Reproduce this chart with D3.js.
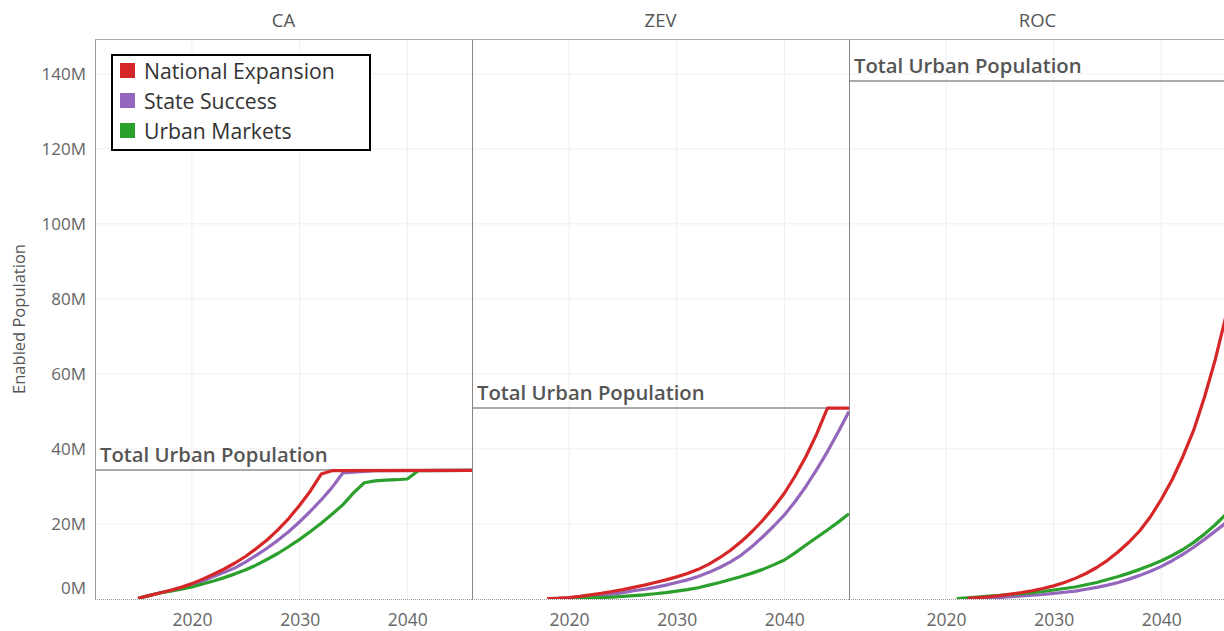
<!DOCTYPE html>
<html>
<head>
<meta charset="utf-8">
<script src="https://cdn.jsdelivr.net/npm/d3@7"></script>
<style>
  body { margin: 0; background: #fff; }
  text { font-family: "Open Sans", sans-serif; }
</style>
</head>
<body>
<svg id="svg"></svg>
<script>
// panels, scenarios and the values (millions of people)
const panels = ['CA', 'ZEV', 'ROC'];
const scenarios = ['National Expansion', 'State Success', 'Urban Markets'];
const colors = ['#d62728', '#9467bd', '#2ca02c'];
const totalUrban = [34.4, 50.9, 138.1];
const yTicks = [0, 20, 40, 60, 80, 100, 120, 140];
const xTicks = [2020, 2030, 2040];

const caNational = [[2015,0.2],[2016,0.9],[2017,1.6],[2018,2.3],[2019,3.1],[2020,4.1],[2021,5.3],[2022,6.6],[2023,8.0],[2024,9.6],[2025,11.4],[2026,13.5],[2027,15.8],[2028,18.5],[2029,21.5],[2030,25.0],[2031,28.8],[2032,33.3],[2033,34.2],[2046,34.3]];
const caState = [[2015,0.2],[2016,0.9],[2017,1.6],[2018,2.2],[2019,2.9],[2020,3.7],[2021,4.8],[2022,6.0],[2023,7.1],[2024,8.3],[2025,9.9],[2026,11.7],[2027,13.6],[2028,15.7],[2029,18.0],[2030,20.6],[2031,23.4],[2032,26.4],[2033,29.7],[2034,33.6],[2035,33.8],[2036,34.0],[2037,34.2],[2046,34.3]];
const caUrban = [[2015,0.2],[2016,0.9],[2017,1.6],[2018,2.1],[2019,2.6],[2020,3.2],[2021,4.0],[2022,4.8],[2023,5.7],[2024,6.7],[2025,7.8],[2026,9.1],[2027,10.6],[2028,12.2],[2029,14.0],[2030,15.9],[2031,18.0],[2032,20.2],[2033,22.6],[2034,25.1],[2035,28.3],[2036,31.0],[2037,31.5],[2038,31.7],[2039,31.8],[2040,32.0],[2041,34.2],[2046,34.3]];

const zevNational = [[2018,0.1],[2019,0.2],[2020,0.4],[2021,0.7],[2022,1.1],[2023,1.5],[2024,2.0],[2025,2.5],[2026,3.1],[2027,3.7],[2028,4.4],[2029,5.1],[2030,5.9],[2031,6.8],[2032,7.9],[2033,9.3],[2034,11.0],[2035,13.0],[2036,15.3],[2037,18.0],[2038,21.0],[2039,24.4],[2040,28.2],[2041,32.8],[2042,38.0],[2043,44.0],[2044,50.9],[2046,50.9]];
const zevState = [[2018,0.1],[2020,0.3],[2021,0.5],[2022,0.8],[2023,1.0],[2024,1.3],[2025,1.7],[2026,2.2],[2027,2.6],[2028,3.1],[2029,3.7],[2030,4.4],[2031,5.1],[2032,6.0],[2033,7.1],[2034,8.4],[2035,9.9],[2036,11.7],[2037,14.0],[2038,16.6],[2039,19.4],[2040,22.4],[2041,26.0],[2042,30.0],[2043,34.5],[2044,39.3],[2045,44.5],[2046,50.0]];
const zevUrban = [[2018,0.0],[2020,0.1],[2022,0.3],[2024,0.5],[2026,0.9],[2027,1.1],[2028,1.4],[2029,1.7],[2030,2.1],[2031,2.5],[2032,3.0],[2033,3.7],[2034,4.4],[2035,5.2],[2036,6.0],[2037,6.9],[2038,7.9],[2039,9.1],[2040,10.4],[2041,12.3],[2042,14.4],[2043,16.4],[2044,18.4],[2045,20.5],[2046,22.7]];

const rocNational = [[2022,0.2],[2023,0.4],[2024,0.6],[2025,0.9],[2026,1.3],[2027,1.7],[2028,2.2],[2029,2.8],[2030,3.5],[2031,4.4],[2032,5.5],[2033,6.8],[2034,8.4],[2035,10.3],[2036,12.6],[2037,15.2],[2038,18.2],[2039,22.0],[2040,26.6],[2041,31.8],[2042,38.0],[2043,45.0],[2044,53.8],[2045,63.8],[2046,75.5]];
const rocState = [[2022,0.0],[2024,0.2],[2026,0.6],[2027,0.8],[2028,1.0],[2029,1.2],[2030,1.5],[2031,1.8],[2032,2.1],[2033,2.6],[2034,3.1],[2035,3.7],[2036,4.4],[2037,5.3],[2038,6.3],[2039,7.4],[2040,8.7],[2041,10.2],[2042,11.9],[2043,13.8],[2044,15.9],[2045,18.1],[2046,20.3]];
const rocUrban = [[2021,0.1],[2022,0.3],[2024,0.8],[2026,1.2],[2027,1.4],[2028,1.7],[2029,2.0],[2030,2.4],[2031,2.8],[2032,3.2],[2033,3.8],[2034,4.4],[2035,5.2],[2036,6.0],[2037,6.9],[2038,7.9],[2039,9.0],[2040,10.2],[2041,11.6],[2042,13.2],[2043,15.1],[2044,17.3],[2045,19.8],[2046,22.6]];

const panelSeries = [
  [caNational, caState, caUrban],
  [zevNational, zevState, zevUrban],
  [rocNational, rocState, rocUrban]
];

const width = 1224;
const height = 631;
const plotLeft = 95;
const plotTop = 39;
const plotBottom = 599;
const panelW = 377;

const svg = d3.select('#svg')
  .attr('width', width)
  .attr('height', height);

const y = d3.scaleLinear()
  .domain([0, 149.3])
  .range([plotBottom, plotTop]);

// y axis labels
const yAxis = svg.append('g')
  .attr('transform', `translate(${plotLeft},0)`)
  .call(d3.axisLeft(y).tickValues(yTicks).tickSize(0).tickPadding(9).tickFormat(d => d + 'M'));
yAxis.select('.domain').remove();
yAxis.selectAll('text')
  .attr('fill', '#666')
  .attr('font-size', '17px')
  .attr('dy', d => d === 0 ? '-0.35em' : '0.32em');

svg.append('text')
  .attr('transform', `translate(25, ${(plotTop + plotBottom) / 2}) rotate(-90)`)
  .attr('text-anchor', 'middle')
  .attr('fill', '#555')
  .attr('font-size', '16.5px')
  .text('Enabled Population');

const line = d3.line()
  .x(d => d[0])
  .y(d => d[1]);

panels.forEach((name, i) => {
  const x0 = plotLeft + i * panelW;
  const x = d3.scaleLinear()
    .domain([2011, 2046])
    .range([x0, x0 + panelW]);

  const g = svg.append('g');

  // gridlines
  g.selectAll('.hgrid')
    .data(yTicks.filter(t => t > 0))
    .enter().append('line')
    .attr('x1', x0).attr('x2', x0 + panelW)
    .attr('y1', d => y(d)).attr('y2', d => y(d))
    .attr('stroke', '#efefef').attr('stroke-width', 1);

  g.selectAll('.vgrid')
    .data(xTicks)
    .enter().append('line')
    .attr('x1', d => x(d)).attr('x2', d => x(d))
    .attr('y1', plotTop).attr('y2', plotBottom)
    .attr('stroke', '#efefef').attr('stroke-width', 1);

  // x axis labels
  const xAxis = g.append('g')
    .attr('transform', `translate(0,${plotBottom})`)
    .call(d3.axisBottom(x).tickValues(xTicks).tickSize(0).tickPadding(15).tickFormat(d3.format('d')));
  xAxis.select('.domain').remove();
  xAxis.selectAll('text')
    .attr('fill', '#666')
    .attr('font-size', '17.5px');

  // header
  svg.append('text')
    .attr('x', x0 + panelW / 2)
    .attr('y', 27)
    .attr('text-anchor', 'middle')
    .attr('fill', '#555')
    .attr('font-size', '18.5px')
    .text(name);

  // reference line
  g.append('line')
    .attr('x1', x0).attr('x2', x0 + panelW)
    .attr('y1', y(totalUrban[i])).attr('y2', y(totalUrban[i]))
    .attr('stroke', '#aaa').attr('stroke-width', 2);

  g.append('text')
    .attr('x', x0 + 5)
    .attr('y', y(totalUrban[i]) - 8)
    .attr('fill', '#555')
    .attr('font-size', '20.3px')
    .attr('font-weight', 600)
    .text('Total Urban Population');

  // clip
  svg.append('clipPath')
    .attr('id', 'clip' + i)
    .append('rect')
    .attr('x', x0).attr('y', plotTop)
    .attr('width', panelW).attr('height', plotBottom - plotTop);

  const series = panelSeries[i];
  [1, 2, 0].forEach(k => {
    g.append('path')
      .attr('clip-path', `url(#clip${i})`)
      .attr('d', line(series[k].map(p => [x(p[0]), y(p[1])])))
      .attr('fill', 'none')
      .attr('stroke', colors[k])
      .attr('stroke-width', 3.2)
      .attr('stroke-linejoin', 'round');
  });

  // zero line
  g.append('line')
    .attr('x1', x0).attr('x2', x0 + panelW)
    .attr('y1', plotBottom + 0.5).attr('y2', plotBottom + 0.5)
    .attr('stroke', '#999').attr('stroke-dasharray', '1,1');

  // panel left border
  g.append('line')
    .attr('x1', x0 + 0.5).attr('x2', x0 + 0.5)
    .attr('y1', plotTop).attr('y2', plotBottom + 1)
    .attr('stroke', i === 0 ? '#999' : '#888').attr('stroke-width', 1);
});

// top border
svg.append('line')
  .attr('x1', plotLeft).attr('x2', width)
  .attr('y1', plotTop + 0.5).attr('y2', plotTop + 0.5)
  .attr('stroke', '#aaa').attr('stroke-width', 1);

// legend
const legend = svg.append('g')
  .attr('transform', 'translate(111,55)');

legend.append('rect')
  .attr('x', 1).attr('y', 0)
  .attr('width', 258).attr('height', 95)
  .attr('fill', '#fff')
  .attr('stroke', '#000')
  .attr('stroke-width', 2);

scenarios.forEach((s, k) => {
  legend.append('rect')
    .attr('x', 9).attr('y', 8 + k * 30)
    .attr('width', 15).attr('height', 15)
    .attr('fill', colors[k]);
  legend.append('text')
    .attr('x', 33).attr('y', 24 + k * 30)
    .attr('fill', '#333')
    .attr('font-size', '21.2px')
    .text(s);
});
</script>
</body>
</html>
